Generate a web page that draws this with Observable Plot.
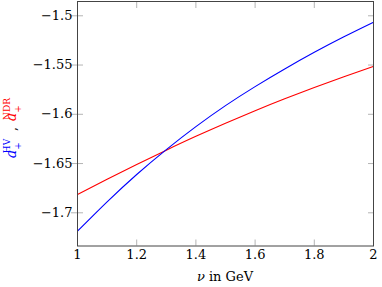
<!DOCTYPE html>
<html>
<head>
<meta charset="utf-8">
<script src="https://cdn.jsdelivr.net/npm/d3@7"></script>
<script src="https://cdn.jsdelivr.net/npm/@observablehq/plot@0.6"></script>
<style>
  html, body { margin: 0; padding: 0; background: #fff; }
  #chart svg, #chart svg text { font-family: "DejaVu Serif" !important; }
</style>
</head>
<body>
<div id="chart"></div>
<script>
// ν values in GeV
const nu = [1.0, 1.1, 1.2, 1.3, 1.4, 1.5, 1.6, 1.7, 1.8, 1.9, 2.0];
// a_+^HV (blue)
const aHV = [-1.7187, -1.6889, -1.6611, -1.6358, -1.6125, -1.5912, -1.5719, -1.5540, -1.5371, -1.5213, -1.5065];
// a_+^NDR (red)
const aNDR = [-1.6814, -1.6659, -1.6509, -1.6364, -1.6224, -1.6091, -1.5964, -1.5843, -1.5728, -1.5618, -1.5513];

const xTicks = [1, 1.2, 1.4, 1.6, 1.8, 2];
const yTicks = [-1.7, -1.65, -1.6, -1.55, -1.5];

const hvData = nu.map((n, i) => ({nu: n, v: aHV[i]}));
const ndrData = nu.map((n, i) => ({nu: n, v: aNDR[i]}));

const fmt = d => (d < 0 ? "\u2212" : "") + Math.abs(d);
const tickColor = "#b4b4b4";

const chart = Plot.plot({
  width: 382,
  height: 287,
  marginLeft: 77,
  marginRight: 9,
  marginTop: 1,
  marginBottom: 41.5,
  style: {fontSize: "13px", background: "#fff"},
  x: {domain: [1, 2]},
  y: {domain: [-1.7337, -1.4855]},
  marks: [
    // inward / centered tick lines
    Plot.axisY({anchor: "left", ticks: yTicks, tickSize: 12, dx: 6, tickFormat: () => "", stroke: tickColor, label: null}),
    Plot.axisY({anchor: "right", ticks: yTicks, tickSize: 6, dx: -6, tickFormat: () => "", stroke: tickColor, label: null}),
    Plot.axisX({anchor: "bottom", ticks: xTicks, tickSize: 6, dy: -6, tickFormat: () => "", stroke: tickColor, label: null}),
    Plot.axisX({anchor: "top", ticks: xTicks, tickSize: 6, dy: 6, tickFormat: () => "", stroke: tickColor, label: null}),
    // tick labels
    Plot.axisY({anchor: "left", ticks: yTicks, tickSize: 0, tickPadding: 5, tickFormat: fmt, label: null, fill: "#000", fontSize: 13}),
    Plot.axisX({anchor: "bottom", ticks: xTicks, tickSize: 0, tickPadding: 4, tickFormat: fmt, label: null, fill: "#000", fontSize: 13}),
    // curves
    Plot.line(ndrData, {x: "nu", y: "v", stroke: "#ff0000", strokeWidth: 1.1, curve: "natural"}),
    Plot.line(hvData, {x: "nu", y: "v", stroke: "#0000ff", strokeWidth: 1.1, curve: "natural"}),
    Plot.frame({stroke: "#444", strokeWidth: 1})
  ]
});

document.getElementById("chart").appendChild(chart);

const svg = d3.select(chart);

// x-axis label: ν in GeV
const xl = svg.append("text")
  .attr("x", 225).attr("y", 281)
  .attr("text-anchor", "middle")
  .attr("font-size", 13)
  .attr("fill", "#000");
xl.append("tspan").attr("font-style", "italic").text("ν");
xl.append("tspan").text(" in GeV");

// y-axis label: a_+^HV , a_+^NDR (rotated)
const g = svg.append("g")
  .attr("transform", "translate(16,154) rotate(-90)");
function term(u, color, sup) {
  g.append("text").attr("x", u).attr("y", 0).attr("font-size", 14).attr("font-style", "italic").attr("fill", color).text("a");
  g.append("text").attr("x", u + 8).attr("y", -6).attr("font-size", 9).attr("fill", color).text(sup);
  g.append("text").attr("x", u + 8).attr("y", 4.5).attr("font-size", 9).attr("fill", color).text("+");
}
term(0, "#0000ff", "HV");
g.append("text").attr("x", 25).attr("y", 0).attr("font-size", 13).attr("fill", "#000").text(",");
term(37, "#ff0000", "NDR");
</script>
</body>
</html>
